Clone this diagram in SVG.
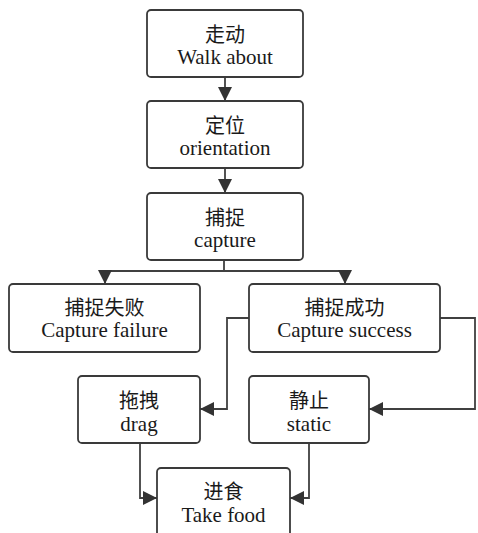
<svg xmlns="http://www.w3.org/2000/svg" width="478" height="533" viewBox="0 0 478 533">
<style>
.box{fill:#fff;stroke:#3a3a3a;stroke-width:1.8}
.t{font-family:"Liberation Serif","Noto Sans CJK SC",serif;font-size:21px;fill:#1a1a1a;text-anchor:middle}
.c{font-family:"Liberation Serif","Noto Sans CJK SC",serif;font-size:20px;fill:#1a1a1a;text-anchor:middle}
.ln{fill:none;stroke:#404040;stroke-width:1.8}
</style>
<defs>
<marker id="ah" markerUnits="userSpaceOnUse" markerWidth="14" markerHeight="14" refX="14" refY="7" orient="auto">
<path d="M0,0 L14,7 L0,14 z" fill="#333"/>
</marker>
</defs>
<rect width="478" height="533" fill="#fff"/>
<g id="connectors">
<path class="ln" d="M225,77 V101" marker-end="url(#ah)"/>
<path class="ln" d="M225,168 V193" marker-end="url(#ah)"/>
<path class="ln" d="M224,260 V271 M105,271 H345"/>
<path class="ln" d="M105,271 V284" marker-end="url(#ah)"/>
<path class="ln" d="M345,271 V284" marker-end="url(#ah)"/>
<path class="ln" d="M249,318 H227 V409 H200" marker-end="url(#ah)"/>
<path class="ln" d="M440,318 H475 V409 H369" marker-end="url(#ah)"/>
<path class="ln" d="M140,443 V498 H157" marker-end="url(#ah)"/>
<path class="ln" d="M309,443 V498 H290" marker-end="url(#ah)"/>
</g>
<g id="walk">
<rect class="box" x="147" y="10" width="156" height="67" rx="4"/>
<text class="c" x="225" y="42">走动</text>
<text class="t" x="225" y="64">Walk about</text>
</g>
<g id="orientation">
<rect class="box" x="147" y="101" width="156" height="67" rx="4"/>
<text class="c" x="225" y="133">定位</text>
<text class="t" x="225" y="155">orientation</text>
</g>
<g id="capture">
<rect class="box" x="147" y="193" width="156" height="67" rx="4"/>
<text class="c" x="225" y="225">捕捉</text>
<text class="t" x="225" y="247">capture</text>
</g>
<g id="failure">
<rect class="box" x="9" y="284" width="191" height="68" rx="4"/>
<text class="c" x="104.5" y="315">捕捉失败</text>
<text class="t" x="104.5" y="337">Capture failure</text>
</g>
<g id="success">
<rect class="box" x="249" y="284" width="191" height="68" rx="4"/>
<text class="c" x="344.5" y="315">捕捉成功</text>
<text class="t" x="344.5" y="337">Capture success</text>
</g>
<g id="drag">
<rect class="box" x="78" y="376" width="122" height="67" rx="4"/>
<text class="c" x="139" y="408">拖拽</text>
<text class="t" x="139" y="431">drag</text>
</g>
<g id="static">
<rect class="box" x="249" y="376" width="120" height="67" rx="4"/>
<text class="c" x="309" y="408">静止</text>
<text class="t" x="309" y="431">static</text>
</g>
<g id="food">
<rect class="box" x="157" y="468" width="133" height="76" rx="4"/>
<text class="c" x="223.5" y="499">进食</text>
<text class="t" x="223.5" y="522">Take food</text>
</g>
</svg>
